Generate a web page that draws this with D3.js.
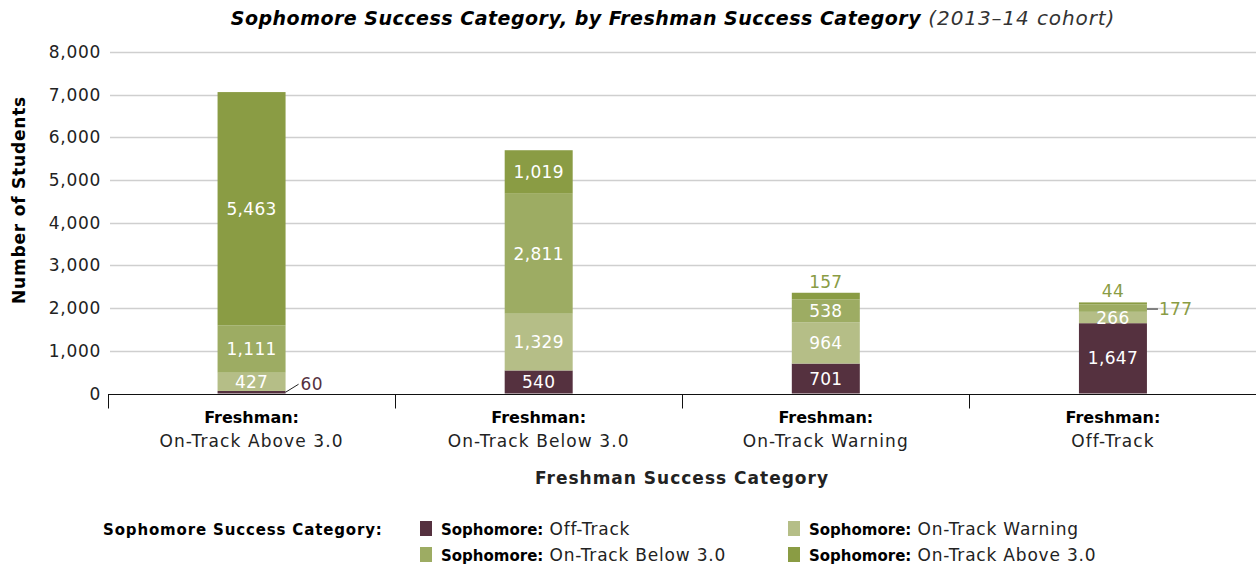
<!DOCTYPE html>
<html>
<head>
<meta charset="utf-8">
<script src="https://cdn.jsdelivr.net/npm/d3@7"></script>
<style>
body { margin: 0; background: #fff; }
svg { font-family: "DejaVu Sans", sans-serif; }
</style>
</head>
<body>
<div id="chart"></div>
<script>
var categories = ["On-Track Above 3.0", "On-Track Below 3.0", "On-Track Warning", "Off-Track"];
var seriesNames = ["Off-Track", "On-Track Warning", "On-Track Below 3.0", "On-Track Above 3.0"];
var offTrack = [60, 540, 701, 1647];
var warning = [427, 1329, 964, 266];
var below = [1111, 2811, 538, 177];
var above = [5463, 1019, 157, 44];
var yTicks = [0, 1000, 2000, 3000, 4000, 5000, 6000, 7000, 8000];

var colors = ["#55313f", "#b5be87", "#9dac63", "#8a9c44"];

var W = 1256, H = 567;
var margin = { left: 108, right: 0, top: 52, bottom: 173 };

var svg = d3.select("#chart").append("svg").attr("width", W).attr("height", H);

var x = d3.scaleBand().domain(categories).range([margin.left, W + 0.5]).paddingInner(0).paddingOuter(0);
var y = d3.scaleLinear().domain([0, 8000]).range([H - margin.bottom - 0.5, margin.top]);

// title
var title = svg.append("text").attr("x", 673).attr("y", 25).attr("text-anchor", "middle")
    .style("font-style", "italic");
title.append("tspan").attr("font-weight", "bold").style("font-size", "19px").style("letter-spacing", "0.5px")
    .text("Sophomore Success Category, by Freshman Success Category");
title.append("tspan").attr("fill", "#333").style("font-size", "20px").style("letter-spacing", "0.9px")
    .text(" (2013–14 cohort)");

// gridlines
svg.append("g").selectAll("line").data(yTicks.slice(1)).enter().append("line")
    .attr("x1", margin.left + 2).attr("x2", W)
    .attr("y1", d => Math.round(y(d)) + 0.5).attr("y2", d => Math.round(y(d)) + 0.5)
    .attr("stroke", "#cfcfcf").attr("stroke-width", 1.5);

// y tick labels
svg.append("g").selectAll("text").data(yTicks).enter().append("text")
    .attr("x", 101).attr("y", d => y(d) + 6).attr("text-anchor", "end")
    .style("font-size", "17px").style("letter-spacing", "0.7px").attr("fill", "#222")
    .text(d3.format(","));

svg.append("text").attr("transform", "translate(25,200) rotate(-90)")
    .attr("text-anchor", "middle").style("font-size", "17px").style("letter-spacing", "0.8px")
    .attr("font-weight", "bold")
    .text("Number of Students");

// stacks
var rows = categories.map((c, i) => ({ cat: c, s0: offTrack[i], s1: warning[i], s2: below[i], s3: above[i] }));
var stack = d3.stack().keys(["s0", "s1", "s2", "s3"])(rows);
var barW = 68;

var layers = svg.append("g").selectAll("g").data(stack).enter().append("g")
    .attr("fill", (d, i) => colors[i]);
layers.selectAll("rect").data(d => d).enter().append("rect")
    .attr("x", d => x(d.data.cat) + x.bandwidth() / 2 - barW / 2)
    .attr("width", barW)
    .attr("y", d => y(d[1]))
    .attr("height", d => y(d[0]) - y(d[1]));

// value labels
var labels = [];
stack.forEach((layer, si) => {
    layer.forEach((d, ci) => {
        var v = d[1] - d[0];
        var cx = x(d.data.cat) + x.bandwidth() / 2;
        var h = y(d[0]) - y(d[1]);
        if (h >= 10) {
            labels.push({ x: cx, y: (y(d[0]) + y(d[1])) / 2 + 6, t: v, fill: "#fff", anchor: "middle" });
        } else if (si === 3) {
            labels.push({ x: cx, y: y(d[1]) - 5, t: v, fill: colors[3], anchor: "middle" });
        } else {
            var ym = (y(d[0]) + y(d[1])) / 2;
            var x0 = cx + barW / 2;
            if (si === 0) {
                labels.push({ x: x0 + 15, y: ym - 2, t: v, fill: colors[0], anchor: "start", line: [x0, ym, x0 + 13, ym - 8] });
            } else {
                labels.push({ x: x0 + 12, y: ym + 7, t: v, fill: colors[3], anchor: "start", line: [x0, ym + 1, x0 + 11, ym + 1] });
            }
        }
    });
});
svg.append("g").selectAll("line").data(labels.filter(d => d.line)).enter().append("line")
    .attr("x1", d => d.line[0]).attr("y1", d => d.line[1]).attr("x2", d => d.line[2]).attr("y2", d => d.line[3])
    .attr("stroke", "#222").attr("stroke-width", 1);
svg.append("g").selectAll("text").data(labels).enter().append("text")
    .attr("x", d => d.x).attr("y", d => d.y).attr("text-anchor", d => d.anchor)
    .attr("fill", d => d.fill).style("font-size", "17px").style("letter-spacing", "0.3px")
    .text(d => d3.format(",")(d.t));

// x axis line and ticks
var y0 = Math.round(y(0)) + 0.5;
svg.append("line").attr("x1", margin.left).attr("x2", W).attr("y1", y0).attr("y2", y0)
    .attr("stroke", "#111").attr("stroke-width", 1.2);
var bounds = categories.map(c => Math.round(x(c)) + 0.5);
svg.append("g").selectAll("line").data(bounds).enter().append("line")
    .attr("x1", d => d).attr("x2", d => d).attr("y1", y0).attr("y2", y0 + 14)
    .attr("stroke", "#111").attr("stroke-width", 1);

var catG = svg.append("g").selectAll("g").data(categories).enter().append("g")
    .attr("transform", d => "translate(" + (x(d) + x.bandwidth() / 2) + ",0)");
catG.append("text").attr("y", 423).attr("text-anchor", "middle").attr("font-weight", "bold")
    .style("font-size", "16px").text("Freshman:");
catG.append("text").attr("y", 447).attr("text-anchor", "middle")
    .style("font-size", "17px").style("letter-spacing", "1.1px").attr("fill", "#222").text(d => d);

svg.append("text").attr("x", 682).attr("y", 484).attr("text-anchor", "middle")
    .style("font-size", "17px").style("letter-spacing", "1px").attr("font-weight", "bold").attr("fill", "#222")
    .text("Freshman Success Category");

// legend
svg.append("text").attr("x", 103).attr("y", 535).style("font-size", "15px").style("letter-spacing", "0.85px")
    .attr("font-weight", "bold")
    .text("Sophomore Success Category:");
var legPos = [[420, 529], [788, 529], [420, 555], [788, 555]];
var leg = svg.append("g").selectAll("g").data(seriesNames).enter().append("g")
    .attr("transform", (d, i) => "translate(" + legPos[i][0] + "," + legPos[i][1] + ")");
leg.append("rect").attr("x", 0).attr("y", -8).attr("width", 12).attr("height", 15)
    .attr("fill", (d, i) => colors[i]);
var lt = leg.append("text").attr("x", 21).attr("y", 6);
lt.append("tspan").attr("font-weight", "bold").style("font-size", "15px").text("Sophomore:");
lt.append("tspan").attr("fill", "#222").style("font-size", "17px").style("letter-spacing", "0.8px")
    .text(d => " " + d);
</script>
</body>
</html>
